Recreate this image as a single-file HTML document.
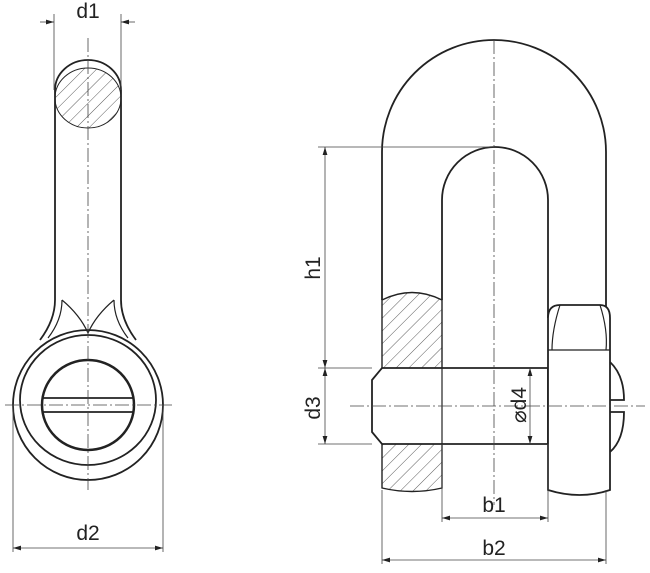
<!DOCTYPE html>
<html><head><style>body{margin:0;background:#fff}svg{display:block}</style></head><body>
<svg width="650" height="573" viewBox="0 0 650 573" xmlns="http://www.w3.org/2000/svg" font-family="Liberation Sans, sans-serif">
<defs>
<pattern id="h" width="9" height="9" patternUnits="userSpaceOnUse" patternTransform="rotate(45)"><line x1="0" y1="0" x2="0" y2="9" stroke="#333" stroke-width="0.8"/></pattern>
<marker id="a" viewBox="0 0 10 6" refX="10" refY="3" markerWidth="10" markerHeight="6" orient="auto-start-reverse"><path d="M0,0L10,3L0,6" fill="#222"/></marker>
</defs>
<g fill="none" stroke="#222" stroke-width="1.8">
<path d="M55,90 A33,30 0 0 1 121,90 L121,300 M55,90 L55,300"/>
<ellipse cx="88" cy="98" rx="33" ry="30" fill="url(#h)" stroke-width="1"/>
<path d="M55,300 Q55,320 40,340 M121,300 Q121,320 136,340"/>
<path d="M62,300 Q62,320 48,338 M114,300 Q114,320 128,338" stroke-width="1.2"/>
<path d="M62,300 Q80,315 88,333 Q96,315 114,300" stroke-width="1.2"/>
<ellipse cx="88" cy="405" rx="75" ry="75"/>
<ellipse cx="88" cy="400" rx="68" ry="65"/>
<ellipse cx="88" cy="405" rx="46" ry="45" stroke-width="2.5"/>
<path d="M42,398 H134 M42,412 H134"/>
</g>
<g stroke="#444" stroke-width="0.8" fill="none">
<path d="M88,38 V490 M5,405 H172" stroke-dasharray="14,3,2,3"/>
<path d="M54,14 V90 M121,14 V90 M13,405 V552 M163,405 V552"/>
<line x1="40" y1="22" x2="54" y2="22" marker-end="url(#a)"/>
<line x1="135" y1="22" x2="121" y2="22" marker-end="url(#a)"/>
<line x1="13" y1="548" x2="163" y2="548" marker-start="url(#a)" marker-end="url(#a)"/>
</g>
<g fill="none" stroke="#222" stroke-width="1.8">
<path d="M382,300 V152 A112,112 0 0 1 606,152 V310"/>
<path d="M442,300 V200 A53,53 0 0 1 548,200 V318"/>
<path d="M382,300 Q412,285 442,300 V488 Q412,495 382,488 Z" fill="url(#h)" stroke-width="1.4"/>
<path d="M372,380 L382,368 H548 V444 H382 L372,432 Z" fill="#fff"/>
<path d="M548,318 Q548,305 560,305 H600 Q610,305 610,318 V490 Q580,500 548,490 Z" fill="#fff"/>
<path d="M548,350 H610 M560,305 Q552,330 552,350 M600,305 Q608,330 606,350" stroke-width="1.2"/>
<path d="M610,362 Q624,375 624,400 H610 M610,412 H624 Q624,440 610,452"/>
<path d="M442,368 V444" stroke-width="1.2"/>
</g>
<g stroke="#444" stroke-width="0.8" fill="none">
<path d="M494,40 V505 M350,406 H645" stroke-dasharray="14,3,2,3"/>
<path d="M318,147 H494 M318,368 H372 M318,444 H372 M442,444 V522 M548,444 V522 M382,490 V564 M606,490 V564"/>
<line x1="325" y1="147" x2="325" y2="368" marker-start="url(#a)" marker-end="url(#a)"/>
<line x1="325" y1="368" x2="325" y2="444" marker-start="url(#a)" marker-end="url(#a)"/>
<line x1="530" y1="368" x2="530" y2="444" marker-start="url(#a)" marker-end="url(#a)"/>
<line x1="442" y1="518" x2="548" y2="518" marker-start="url(#a)" marker-end="url(#a)"/>
<line x1="382" y1="560" x2="606" y2="560" marker-start="url(#a)" marker-end="url(#a)"/>
</g>
<g fill="#222" font-size="21" text-anchor="middle">
<text x="88" y="18">d1</text>
<text x="88" y="540">d2</text>
<text x="494" y="512">b1</text>
<text x="494" y="555">b2</text>
<text transform="translate(320,268) rotate(-90)">h1</text>
<text transform="translate(320,408) rotate(-90)">d3</text>
<text transform="translate(526,405) rotate(-90)">⌀d4</text>
</g>
</svg>
</body></html>
